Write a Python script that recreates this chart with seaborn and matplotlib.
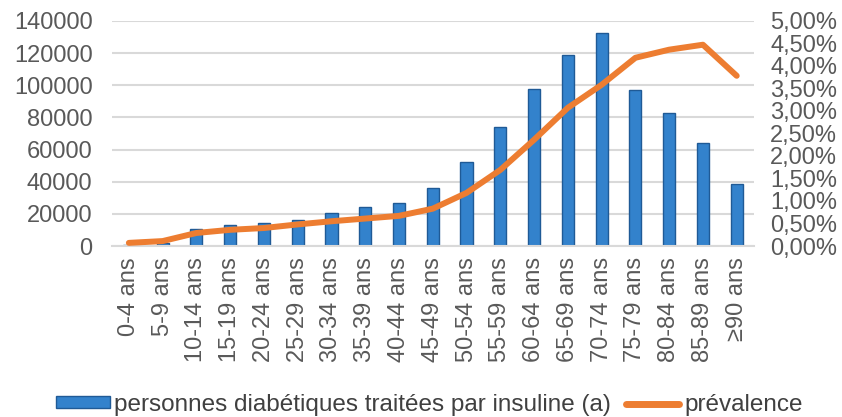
import numpy as np
import pandas as pd
import matplotlib
matplotlib.use("Agg")
import matplotlib.pyplot as plt
import seaborn as sns
from matplotlib.patches import Patch
from matplotlib.lines import Line2D
from matplotlib.ticker import FuncFormatter, MultipleLocator

categories = ["0-4 ans", "5-9 ans", "10-14 ans", "15-19 ans", "20-24 ans", "25-29 ans",
              "30-34 ans", "35-39 ans", "40-44 ans", "45-49 ans", "50-54 ans", "55-59 ans",
              "60-64 ans", "65-69 ans", "70-74 ans", "75-79 ans", "80-84 ans", "85-89 ans",
              "\u226590 ans"]
personnes = [500, 2000, 10500, 12800, 14200, 16000, 20400, 24000, 26700, 36000,
             52300, 74000, 97500, 118800, 132500, 97000, 82700, 64000, 38600]
prevalence = [0.07, 0.11, 0.29, 0.36, 0.40, 0.48, 0.55, 0.61, 0.67, 0.83,
              1.18, 1.69, 2.36, 3.07, 3.58, 4.18, 4.36, 4.47, 3.78]

label_bar = "personnes diabétiques traitées par insuline (a)"
label_line = "prévalence"

sns.set_theme(style="white")
plt.rcParams["font.family"] = ["Liberation Sans", "DejaVu Sans"]

grey = "#595959"
blue = "#3382CC"
orange = "#ED7D31"

fig = plt.figure(figsize=(8.42, 4.17), dpi=100)
ax = fig.add_axes([0.133, 0.410, 0.762, 0.540])

df = pd.DataFrame({"cat": categories, "val": personnes})
sns.barplot(data=df, x="cat", y="val", ax=ax, color=blue, width=0.36,
            edgecolor="#1F5A96", linewidth=1.0, saturation=1)

ax.set_ylim(0, 140000)
ax.set_xlim(-0.5, 18.5)
ax.yaxis.set_major_locator(MultipleLocator(20000))
ax.yaxis.grid(True, color="#D9D9D9", linewidth=1.5)
ax.set_axisbelow(True)
for s in ["top", "right", "left"]:
    ax.spines[s].set_visible(False)
ax.spines["bottom"].set_color("#D9D9D9")
ax.spines["bottom"].set_linewidth(1.5)
ax.set_xlabel("")
ax.set_ylabel("")
ax.tick_params(axis="y", labelsize=17, colors=grey, length=0, pad=14)
ax.tick_params(axis="x", labelsize=17, colors=grey, length=0, pad=8, labelrotation=90)
ax.yaxis.set_major_formatter(FuncFormatter(lambda v, p: f"{int(v)}"))

ax2 = ax.twinx()
sns.lineplot(x=np.arange(len(categories)), y=prevalence, ax=ax2, color=orange,
             linewidth=4.3, solid_capstyle="round", solid_joinstyle="round")
ax2.set_ylim(0, 5)
ax2.yaxis.set_major_locator(MultipleLocator(0.5))
ax2.yaxis.set_major_formatter(FuncFormatter(lambda v, p: f"{v:.2f}".replace(".", ",") + "%"))
ax2.tick_params(axis="y", labelsize=17, colors=grey, length=0, pad=12)
for s in ["top", "right", "left", "bottom"]:
    ax2.spines[s].set_visible(False)
ax2.grid(False)
ax2.set_xlim(-0.5, 18.5)

handles = [Patch(facecolor=blue, edgecolor="#1F5A96", label=label_bar),
           Line2D([0], [0], color=orange, linewidth=5, solid_capstyle="round", label=label_line)]
leg = fig.legend(handles=handles, loc="center", bbox_to_anchor=(0.51, 0.029), ncol=2,
                 frameon=False, fontsize=17.5, handlelength=2.2, handleheight=0.35,
                 handletextpad=0.2, columnspacing=0.6, labelcolor="#404040",
                 borderpad=0, borderaxespad=0)

fig.savefig("out.png", dpi=100)
